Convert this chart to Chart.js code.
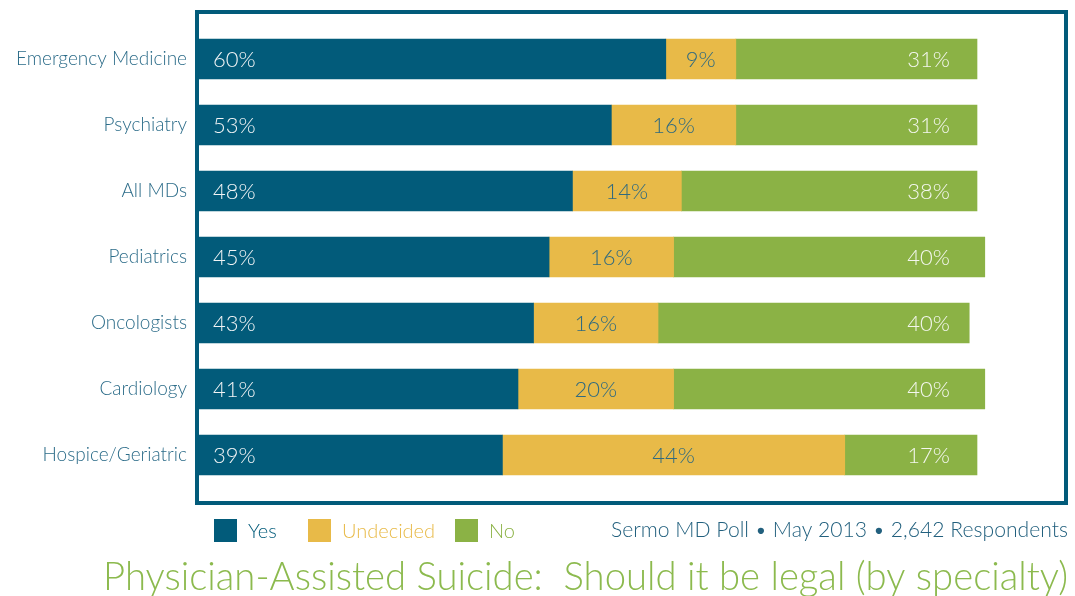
<!DOCTYPE html>
<html>
<head>
<meta charset="utf-8">
<script src="https://cdn.jsdelivr.net/npm/chart.js@4/dist/chart.umd.min.js"></script>
<style>
  html, body { margin: 0; padding: 0; background: #ffffff; }
  canvas { display: block; }
</style>
</head>
<body>
<canvas id="chart" width="1075" height="596"></canvas>
<script>
// Survey answers per specialty (percent of respondents)
const categories = ['Emergency Medicine', 'Psychiatry', 'All MDs', 'Pediatrics', 'Oncologists', 'Cardiology', 'Hospice/Geriatric'];
const yesValues = [60, 53, 48, 45, 43, 41, 39];
const undecidedValues = [9, 16, 14, 16, 16, 20, 44];
const noValues = [31, 31, 38, 40, 40, 40, 17];
const seriesNames = ['Yes', 'Undecided', 'No'];

const sourceText = 'Sermo MD Poll \u2022 May 2013 \u2022 2,642 Respondents';
const titleText = 'Physician-Assisted Suicide:  Should it be legal (by specialty)';

const TEAL = '#025b7a';
const GOLD = '#e8ba48';
const GREEN = '#8bb245';
const LABEL_TEAL = '#2c6c89';
const TITLE_GREEN = '#8cba4e';
const FONT = 'Lato, "Open Sans", sans-serif';
const WEIGHT = '300';

// Frame drawn around the plotting region
const framePlugin = {
  id: 'frame',
  beforeDatasetsDraw(chart) {
    const a = chart.chartArea;
    const ctx = chart.ctx;
    ctx.save();
    ctx.strokeStyle = TEAL;
    ctx.lineWidth = 4;
    ctx.strokeRect(a.left - 2, a.top - 14, (a.right + 89) - (a.left - 2), (a.bottom + 15) - (a.top - 14));
    ctx.restore();
  }
};

// Percent labels on every segment
const valueLabelPlugin = {
  id: 'valueLabels',
  afterDatasetsDraw(chart) {
    const ctx = chart.ctx;
    ctx.save();
    ctx.font = WEIGHT + ' 22px ' + FONT;
    ctx.textBaseline = 'middle';
    chart.data.datasets.forEach((ds, di) => {
      const meta = chart.getDatasetMeta(di);
      meta.data.forEach((bar, i) => {
        const p = bar.getProps(['x', 'y', 'base'], true);
        const txt = ds.data[i] + '%';
        const left = Math.min(p.x, p.base), right = Math.max(p.x, p.base);
        if (di === 0) {
          ctx.fillStyle = '#f2f4f5';
          ctx.textAlign = 'left';
          ctx.fillText(txt, left + 14, p.y + 1);
        } else if (di === 1) {
          ctx.fillStyle = '#2f6a80';
          ctx.textAlign = 'center';
          ctx.fillText(txt, (left + right) / 2, p.y + 1);
        } else {
          ctx.fillStyle = '#f4f7ef';
          ctx.textAlign = 'right';
          ctx.fillText(txt, chart.scales.x.getPixelForValue(100) - 27, p.y + 1);
        }
      });
    });
    ctx.restore();
  }
};

// Legend, source line and title beneath the frame
const footerPlugin = {
  id: 'footer',
  afterDraw(chart) {
    const ctx = chart.ctx;
    const a = chart.chartArea;
    ctx.save();
    // legend
    const legendY = a.bottom + 42;
    const entries = [
      { x: 214, textColor: TEAL },
      { x: 308, textColor: GOLD },
      { x: 455, textColor: GREEN }
    ];
    ctx.font = WEIGHT + ' 20px ' + FONT;
    ctx.textBaseline = 'middle';
    ctx.textAlign = 'left';
    chart.data.datasets.forEach((ds, i) => {
      const e = entries[i];
      ctx.fillStyle = ds.backgroundColor;
      ctx.fillRect(e.x, legendY - 11, 23, 23);
      ctx.fillStyle = e.textColor;
      ctx.fillText(ds.label, e.x + 34, legendY + 2);
    });
    // source line, right aligned to the frame's outer edge
    const rightEdge = a.right + 91;
    ctx.fillStyle = '#22607e';
    ctx.font = WEIGHT + ' 21px ' + FONT;
    ctx.textBaseline = 'alphabetic';
    drawFitted(ctx, sourceText, rightEdge, a.bottom + 49, 457);
    // title
    ctx.fillStyle = TITLE_GREEN;
    ctx.font = WEIGHT + ' 39px ' + FONT;
    drawFitted(ctx, titleText, rightEdge, a.bottom + 102, 965);
    ctx.restore();
  }
};

// Right-aligned text squeezed/stretched horizontally to a target width
function drawFitted(ctx, text, rightX, baseline, targetWidth) {
  const w = ctx.measureText(text).width;
  const s = targetWidth / w;
  ctx.save();
  ctx.translate(rightX - targetWidth, baseline);
  ctx.scale(s, 1);
  ctx.textAlign = 'left';
  ctx.fillText(text, 0, 0);
  ctx.restore();
}

new Chart(document.getElementById('chart'), {
  type: 'bar',
  data: {
    labels: categories,
    datasets: [
      { label: seriesNames[0], data: yesValues, backgroundColor: TEAL },
      { label: seriesNames[1], data: undecidedValues, backgroundColor: GOLD },
      { label: seriesNames[2], data: noValues, backgroundColor: GREEN }
    ]
  },
  options: {
    indexAxis: 'y',
    responsive: false,
    animation: false,
    devicePixelRatio: 1,
    layout: { padding: { top: 26, bottom: 108, right: 98, left: 0 } },
    datasets: { bar: { barThickness: 40, borderWidth: 0, clip: false } },
    scales: {
      x: { stacked: true, min: 0, max: 100, display: false },
      y: {
        stacked: true,
        grid: { display: false, drawTicks: false },
        border: { display: false },
        ticks: { color: LABEL_TEAL, font: { family: FONT, size: 19, weight: WEIGHT }, padding: 12 },
        afterFit(scale) { scale.width = 199; }
      }
    },
    plugins: {
      legend: { display: false },
      tooltip: { enabled: false },
      title: { display: false }
    }
  },
  plugins: [framePlugin, valueLabelPlugin, footerPlugin]
});
</script>
</body>
</html>
